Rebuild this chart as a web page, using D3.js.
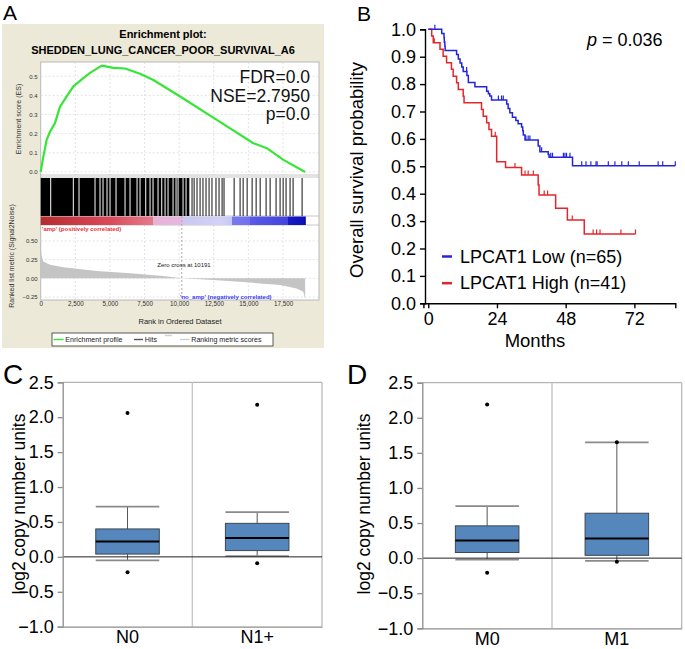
<!DOCTYPE html>
<html>
<head>
<meta charset="utf-8">
<script src="https://cdn.jsdelivr.net/npm/d3@7"></script>
<style>
  body { margin: 0; background: #fff; }
  svg { display: block; font-family: "Liberation Sans", Arial, sans-serif; }
</style>
</head>
<body>
<svg id="fig" width="685" height="649"></svg>
<script>
// ---------- Panel A: GSEA enrichment plot ----------
var esRank  = [0, 190, 430, 670, 1030, 1390, 1880, 2360, 3080, 3560, 4410, 5250, 6090, 7170, 8140, 10070, 12720, 15360, 16330, 17530, 19100];
var esScore = [0, 0.08, 0.167, 0.21, 0.255, 0.34, 0.394, 0.447, 0.49, 0.517, 0.555, 0.543, 0.54, 0.513, 0.48, 0.394, 0.272, 0.15, 0.124, 0.063, 0];

// runs of hits so dense they print solid, then single hits
var hitRuns = [[0, 686], [759, 2319], [2391, 2731], [2803, 3887], [3959, 4248], [4320, 4465], [4537, 4754],
  [4826, 4971], [5043, 5404], [5477, 6055], [6127, 6416], [6488, 6922], [6994, 7138], [7211, 7550],
  [7622, 7861], [7933, 8077], [8150, 8439], [8511, 8706], [8778, 8945], [9017, 9161], [9233, 9523],
  [9595, 9739], [9811, 9884], [9956, 10245], [10317, 10462], [10534, 10736]];
var hitRanks = [10930, 11080, 11290, 11510, 11720, 11940, 12160, 12370, 12660, 12880, 13100, 13240, 13970,
  14400, 14620, 14910, 15270, 15560, 15850, 16280, 16570, 17000, 17290, 17510, 17720, 18010, 18230, 18880];

var metricRank  = [0, 60, 190, 670, 1640, 4040, 6450, 8860, 10191, 12470, 14880, 17290, 18490, 18970, 19100];
var metricValue = [0.45, 0.3, 0.225, 0.18, 0.149, 0.099, 0.068, 0.031, 0, -0.023, -0.054, -0.09, -0.135, -0.18, -0.28];

var zeroCross = 10191;
var rankTicks = [0, 2500, 5000, 7500, 10000, 12500, 15000, 17500];
var esTicks = [0, 0.1, 0.2, 0.3, 0.4, 0.5];
var metricTicks = [-0.25, 0, 0.25, 0.5];
var gseaTitle = ['Enrichment plot:', 'SHEDDEN_LUNG_CANCER_POOR_SURVIVAL_A6'];
var gseaStats = ['FDR=0.0', 'NSE=2.7950', 'p=0.0'];
var gseaLegend = ['Enrichment profile', 'Hits', '', 'Ranking metric scores'];

// ---------- Panel B: Kaplan-Meier ----------
var kmLowEvents = [[4.7, 0.985], [5.5, 0.969], [5.6, 0.954], [5.8, 0.938], [5.9, 0.923], [9.9, 0.908], [10.5, 0.892],
  [11.1, 0.877], [11.7, 0.862], [12.2, 0.846], [13.5, 0.831], [14.0, 0.806], [16.3, 0.790], [20.4, 0.774],
  [21.0, 0.765], [21.5, 0.757], [22.1, 0.742], [27.4, 0.727], [27.9, 0.711], [28.5, 0.695], [29.4, 0.679],
  [30.6, 0.667], [31.4, 0.655], [32.6, 0.643], [33.0, 0.630], [33.2, 0.614], [33.8, 0.596], [38.4, 0.574],
  [39.0, 0.553], [41.9, 0.543], [42.2, 0.533], [50.4, 0.502]];
var kmLowCensor = [2.3, 13.4, 24.5, 25.6, 26.2, 34.1, 34.9, 35.5, 39.6, 42.8, 43.4, 47.2, 47.75, 48.3, 49.5,
  53.6, 55.1, 56.8, 58.6, 59.0, 62.9, 65.2, 67.6, 69.9, 73.7, 80.3, 81.9, 86.3];
var kmLowEnd = 86.3;

var kmHighEvents = [[1.2, 0.976], [1.75, 0.951], [4.1, 0.927], [5.2, 0.902], [6.4, 0.878], [8.1, 0.854], [8.7, 0.829],
  [9.9, 0.805], [10.5, 0.780], [12.2, 0.756], [12.5, 0.732], [18.6, 0.707], [19.2, 0.683], [20.4, 0.659],
  [21.2, 0.634], [22.1, 0.610], [23.9, 0.517], [27.0, 0.496], [32.6, 0.468], [38.4, 0.432], [38.7, 0.395],
  [44.5, 0.347], [48.6, 0.304], [54.5, 0.253]];
var kmHighCensor = [2.1, 23.4, 30.3, 33.8, 34.9, 36.7, 40.5, 41.7, 50.3, 57.6, 58.8, 60.0, 67.3, 72.4];
var kmHighEnd = 72.4;

var kmNames = ['LPCAT1 Low (n=65)', 'LPCAT1 High (n=41)'];
var monthTicks = [0, 24, 48, 72];
var survTicks = [0, 0.1, 0.2, 0.3, 0.4, 0.5, 0.6, 0.7, 0.8, 0.9, 1.0];
var pValue = '0.036';

// ---------- Panels C, D: box plots ----------
var copyTicks = [-1, -0.5, 0, 0.5, 1, 1.5, 2, 2.5];

var nodeCats = ['N0', 'N1+'];
var nodeLow = [-0.05, 0.01];
var nodeQ1 = [0.04, 0.09];
var nodeMedian = [0.22, 0.27];
var nodeQ3 = [0.40, 0.48];
var nodeHigh = [0.72, 0.64];
var nodeOutliers = [[2.06, -0.22], [2.18, -0.09]];

var metaCats = ['M0', 'M1'];
var metaLow = [-0.02, -0.04];
var metaQ1 = [0.08, 0.04];
var metaMedian = [0.25, 0.28];
var metaQ3 = [0.46, 0.64];
var metaHigh = [0.74, 1.65];
var metaOutliers = [[2.19, -0.21], [1.65, -0.05]];

var fig = d3.select('#fig');

function styleAxis(g, size, color) {
  g.attr('font-size', size)
    .attr('font-family', '"Liberation Sans", Arial, sans-serif')
    .style('color', color);
}

// ================= A =================
var pa = fig.append('g');

pa.append('text').attr('x', 3).attr('y', 20).attr('font-size', 21).text('A');

pa.append('rect')
  .attr('x', 2).attr('y', 24).attr('width', 322).attr('height', 324)
  .attr('fill', '#ece9d8');

pa.selectAll('.title')
  .data(gseaTitle)
  .enter().append('text')
  .attr('x', 163)
  .attr('y', function(d, i) { return 37.5 + i * 16; })
  .attr('text-anchor', 'middle')
  .attr('font-size', 11)
  .attr('font-weight', 'bold')
  .text(function(d) { return d; });

var xRank = d3.scaleLinear().domain([0, 20100]).range([40.7, 319]);
var yES = d3.scaleLinear().domain([-0.016, 0.574]).range([175, 62]);
var yMetric = d3.scaleLinear().domain([-0.29, 0.713]).range([300, 225]);

pa.append('rect')
  .attr('x', 40.7).attr('y', 62).attr('width', 278.3).attr('height', 238)
  .attr('fill', '#fff').attr('stroke', '#b8b8b8');

// grid
var grid = pa.append('g').attr('stroke', '#dcdcdc').attr('stroke-dasharray', '2,2').attr('stroke-width', 0.8);
rankTicks.forEach(function(r) {
  if (r === 0) return;
  grid.append('line').attr('x1', xRank(r)).attr('x2', xRank(r)).attr('y1', 62).attr('y2', 175);
  grid.append('line').attr('x1', xRank(r)).attr('x2', xRank(r)).attr('y1', 225).attr('y2', 300);
});
esTicks.forEach(function(t) {
  grid.append('line').attr('x1', 40.7).attr('x2', 319).attr('y1', yES(t)).attr('y2', yES(t));
});
metricTicks.forEach(function(t) {
  grid.append('line').attr('x1', 40.7).attr('x2', 319).attr('y1', yMetric(t)).attr('y2', yMetric(t));
});

// separators between the three strips
[175, 177, 216, 225].forEach(function(yy) {
  pa.append('line').attr('x1', 40.7).attr('x2', 319).attr('y1', yy).attr('y2', yy)
    .attr('stroke', '#b8b8b8').attr('stroke-width', 0.8);
});

// hits
pa.selectAll('.run')
  .data(hitRuns)
  .enter().append('rect')
  .attr('x', function(d) { return xRank(d[0]); })
  .attr('width', function(d) { return xRank(d[1]) - xRank(d[0]); })
  .attr('y', 178).attr('height', 38)
  .attr('fill', '#000');

pa.selectAll('.hit')
  .data(hitRanks)
  .enter().append('line')
  .attr('x1', function(d) { return xRank(d); })
  .attr('x2', function(d) { return xRank(d); })
  .attr('y1', 178).attr('y2', 216)
  .attr('stroke', '#111').attr('stroke-width', 1);

// ranked list colour bar
var barStops = [[0, '#b32c2e'], [2500, '#c83a46'], [5000, '#d84a5a'], [7000, '#e06a7a'], [8135, '#e27a8a'],
  [8136, '#e8b2d6'], [10280, '#e6b8e0'], [10281, '#c9c9f0'], [13000, '#d2d2f8'], [13800, '#c8c8f4'],
  [13801, '#7a7aee'], [15122, '#7070ec'], [15123, '#5a5ae6'], [17866, '#4444de'], [17867, '#1a1ac6'],
  [19000, '#1010b8'], [19146, '#000090']];
var lastRank = 19146;
var grad = fig.append('defs').append('linearGradient')
  .attr('id', 'rankGrad')
  .attr('gradientUnits', 'userSpaceOnUse')
  .attr('x1', xRank(0)).attr('x2', xRank(lastRank)).attr('y1', 0).attr('y2', 0);
grad.selectAll('stop')
  .data(barStops)
  .enter().append('stop')
  .attr('offset', function(d) { return d[0] / lastRank; })
  .attr('stop-color', function(d) { return d[1]; });
pa.append('rect')
  .attr('x', xRank(0)).attr('y', 216.5)
  .attr('width', xRank(lastRank) - xRank(0)).attr('height', 8.5)
  .attr('fill', 'url(#rankGrad)');

// ranked metric area
var metricPts = metricRank.map(function(r, i) { return [r, metricValue[i]]; });
pa.append('path')
  .datum(metricPts)
  .attr('d', d3.area()
    .x(function(d) { return xRank(d[0]); })
    .y0(yMetric(0))
    .y1(function(d) { return yMetric(d[1]); }))
  .attr('fill', '#c4c4c4');

pa.append('line')
  .attr('x1', xRank(zeroCross)).attr('x2', xRank(zeroCross))
  .attr('y1', 216).attr('y2', 300)
  .attr('stroke', '#a8a8a8').attr('stroke-dasharray', '2,2');

// enrichment profile
var esPts = esRank.map(function(r, i) { return [r, esScore[i]]; });
pa.append('path')
  .datum(esPts)
  .attr('d', d3.line()
    .x(function(d) { return xRank(d[0]); })
    .y(function(d) { return yES(d[1]); }))
  .attr('fill', 'none')
  .attr('stroke', '#36e636')
  .attr('stroke-width', 2.2)
  .attr('stroke-linejoin', 'round');

pa.selectAll('.stat')
  .data(gseaStats)
  .enter().append('text')
  .attr('x', 310)
  .attr('y', function(d, i) { return 83 + i * 18.7; })
  .attr('text-anchor', 'end')
  .attr('font-size', 17.5)
  .attr('fill', '#111')
  .text(function(d) { return d; });

pa.append('text').attr('x', 42).attr('y', 231).attr('font-size', 6).attr('font-weight', 'bold')
  .attr('fill', '#e8303a').text("'amp' (positively correlated)");
pa.append('text').attr('x', 184).attr('y', 267).attr('font-size', 6).attr('text-anchor', 'middle')
  .attr('fill', '#222').text('Zero cross at ' + zeroCross);
pa.append('text').attr('x', 180).attr('y', 299).attr('font-size', 6).attr('font-weight', 'bold')
  .attr('fill', '#3c3cee').text("'no_amp' (negatively correlated)");

// axes
pa.append('g')
  .attr('transform', 'translate(40.7,0)')
  .call(d3.axisLeft(yES).tickValues(esTicks).tickSize(0).tickPadding(3).tickFormat(d3.format('.1f')))
  .call(function(g) { g.select('.domain').remove(); styleAxis(g, 6, '#333'); });

pa.append('g')
  .attr('transform', 'translate(40.7,0)')
  .call(d3.axisLeft(yMetric).tickValues(metricTicks).tickSize(0).tickPadding(3).tickFormat(d3.format('.2f')))
  .call(function(g) { g.select('.domain').remove(); styleAxis(g, 6, '#333'); });

pa.append('g')
  .attr('transform', 'translate(0,300)')
  .call(d3.axisBottom(xRank).tickValues(rankTicks).tickSize(0).tickPadding(2).tickFormat(d3.format(',')))
  .call(function(g) { g.select('.domain').remove(); styleAxis(g, 6.3, '#333'); });

pa.append('text').attr('x', 180).attr('y', 324).attr('text-anchor', 'middle')
  .attr('font-size', 7.5).attr('fill', '#222').text('Rank in Ordered Dataset');
pa.append('text').attr('transform', 'translate(21,119) rotate(-90)').attr('text-anchor', 'middle')
  .attr('font-size', 7).attr('fill', '#333').text('Enrichment score (ES)');
pa.append('text').attr('transform', 'translate(14,256) rotate(-90)').attr('text-anchor', 'middle')
  .attr('font-size', 7).attr('fill', '#333').text('Ranked list metric (Signal2Noise)');

// legend
var lg = pa.append('g');
lg.append('rect').attr('x', 52).attr('y', 333).attr('width', 221).attr('height', 13)
  .attr('fill', '#fff').attr('stroke', '#333').attr('stroke-width', 0.8);
var lgItems = [
  { x: 53.5, w: 10, y: 339.5, c: '#36e636' },
  { x: 134, w: 9, y: 339.5, c: '#555' },
  { x: 165, w: 7, y: 335.5, c: '#d0d0d0' },
  { x: 180, w: 9.5, y: 339.5, c: '#cfcfcf' }
];
lg.selectAll('.ll')
  .data(gseaLegend)
  .enter().append('line')
  .attr('x1', function(d, i) { return lgItems[i].x; })
  .attr('x2', function(d, i) { return lgItems[i].x + lgItems[i].w; })
  .attr('y1', function(d, i) { return lgItems[i].y; })
  .attr('y2', function(d, i) { return lgItems[i].y; })
  .attr('stroke', function(d, i) { return lgItems[i].c; })
  .attr('stroke-width', 1.4);
lg.selectAll('.lt')
  .data(gseaLegend)
  .enter().append('text')
  .attr('x', function(d, i) { return lgItems[i].x + lgItems[i].w + 1.8; })
  .attr('y', 342.3)
  .attr('font-size', 7.1)
  .attr('fill', '#222')
  .text(function(d) { return d; });

// ================= B =================
var pb = fig.append('g');
pb.append('text').attr('x', 357).attr('y', 21).attr('font-size', 21).text('B');

var xM = d3.scaleLinear().domain([-1.7, 86.3]).range([423.4, 675.3]);
var yS = d3.scaleLinear().domain([0, 1]).range([303.3, 29.3]);

function survAt(events, t) {
  var s = 1;
  events.forEach(function(e) { if (e[0] <= t) s = e[1]; });
  return s;
}

function drawKM(events, censor, end, color) {
  var pts = [[0, 1]].concat(events).concat([[end, events[events.length - 1][1]]]);
  pb.append('path')
    .datum(pts)
    .attr('d', d3.line()
      .x(function(d) { return xM(d[0]); })
      .y(function(d) { return yS(d[1]); })
      .curve(d3.curveStepAfter))
    .attr('fill', 'none')
    .attr('stroke', color)
    .attr('stroke-width', 1.5);

  pb.selectAll(null)
    .data(censor)
    .enter().append('line')
    .attr('x1', function(d) { return xM(d); })
    .attr('x2', function(d) { return xM(d); })
    .attr('y1', function(d) { return yS(survAt(events, d)); })
    .attr('y2', function(d) { return yS(survAt(events, d)) - 4.5; })
    .attr('stroke', color)
    .attr('stroke-width', 1.2);
}

drawKM(kmHighEvents, kmHighCensor, kmHighEnd, '#e3262b');
drawKM(kmLowEvents, kmLowCensor, kmLowEnd, '#2424dc');

pb.append('g')
  .attr('transform', 'translate(425,0)')
  .call(d3.axisLeft(yS).tickValues(survTicks).tickSize(5).tickPadding(4).tickFormat(d3.format('.1f')))
  .call(function(g) {
    styleAxis(g, 18, '#000');
    g.selectAll('path, line').attr('stroke-width', 1.4);
  });

pb.append('g')
  .attr('transform', 'translate(0,303.3)')
  .call(d3.axisBottom(xM).tickValues(monthTicks).tickSize(5).tickPadding(4))
  .call(function(g) {
    styleAxis(g, 18, '#000');
    g.selectAll('path, line').attr('stroke-width', 1.4);
  });

pb.append('text').attr('x', 535).attr('y', 347).attr('text-anchor', 'middle')
  .attr('font-size', 18.5).text('Months');
pb.append('text').attr('transform', 'translate(363,170) rotate(-90)').attr('text-anchor', 'middle')
  .attr('font-size', 18.5).text('Overall survival probability');

var pText = pb.append('text').attr('x', 587).attr('y', 46).attr('font-size', 18);
pText.append('tspan').attr('font-style', 'italic').text('p');
pText.append('tspan').text(' = ' + pValue);

var kmColors = ['#2424dc', '#e3262b'];
pb.selectAll('.kl')
  .data(kmNames)
  .enter().append('line')
  .attr('x1', 442).attr('x2', 452)
  .attr('y1', function(d, i) { return 256.5 + i * 26.7; })
  .attr('y2', function(d, i) { return 256.5 + i * 26.7; })
  .attr('stroke', function(d, i) { return kmColors[i]; })
  .attr('stroke-width', 2.5);
pb.selectAll('.kt')
  .data(kmNames)
  .enter().append('text')
  .attr('x', 460)
  .attr('y', function(d, i) { return 262.5 + i * 26.5; })
  .attr('font-size', 18)
  .text(function(d) { return d; });

// ================= C, D =================
function drawBoxPanel(cfg) {
  var g = fig.append('g');
  g.append('text').attr('x', cfg.letterX).attr('y', 384).attr('font-size', 28).text(cfg.letter);

  var y = d3.scaleLinear().domain([-1, 2.5]).range([cfg.bottom, cfg.top]);
  var x = d3.scaleBand().domain(cfg.cats).range([cfg.left, cfg.right]);
  var bw = x.bandwidth() * 0.49;

  g.append('line').attr('x1', cfg.left).attr('x2', cfg.right).attr('y1', cfg.top).attr('y2', cfg.top)
    .attr('stroke', '#b4b4b4').attr('stroke-width', 1.2);
  g.append('line').attr('x1', cfg.right).attr('x2', cfg.right).attr('y1', cfg.top).attr('y2', cfg.bottom)
    .attr('stroke', '#b4b4b4').attr('stroke-width', 1.2);
  g.append('line').attr('x1', x(cfg.cats[1])).attr('x2', x(cfg.cats[1])).attr('y1', cfg.top).attr('y2', cfg.bottom)
    .attr('stroke', '#c8c8c8').attr('stroke-width', 1.5);

  var boxes = g.selectAll('.box')
    .data(cfg.cats)
    .enter().append('g')
    .attr('transform', function(d) { return 'translate(' + (x(d) + x.bandwidth() / 2) + ',0)'; });

  boxes.append('line')
    .attr('x1', 0).attr('x2', 0)
    .attr('y1', function(d, i) { return y(cfg.q3[i]); })
    .attr('y2', function(d, i) { return y(cfg.high[i]); })
    .attr('stroke', '#555').attr('stroke-width', 1);
  boxes.append('line')
    .attr('x1', 0).attr('x2', 0)
    .attr('y1', function(d, i) { return y(cfg.q1[i]); })
    .attr('y2', function(d, i) { return y(cfg.low[i]); })
    .attr('stroke', '#555').attr('stroke-width', 1);
  ['high', 'low'].forEach(function(k) {
    boxes.append('line')
      .attr('x1', -bw / 2).attr('x2', bw / 2)
      .attr('y1', function(d, i) { return y(cfg[k][i]); })
      .attr('y2', function(d, i) { return y(cfg[k][i]); })
      .attr('stroke', '#8a8a8a').attr('stroke-width', 1.8);
  });

  boxes.append('rect')
    .attr('x', -bw / 2).attr('width', bw)
    .attr('y', function(d, i) { return y(cfg.q3[i]); })
    .attr('height', function(d, i) { return y(cfg.q1[i]) - y(cfg.q3[i]); })
    .attr('fill', '#5587bd')
    .attr('stroke', '#3d4650').attr('stroke-width', 1);
  boxes.append('line')
    .attr('x1', -bw / 2).attr('x2', bw / 2)
    .attr('y1', function(d, i) { return y(cfg.median[i]); })
    .attr('y2', function(d, i) { return y(cfg.median[i]); })
    .attr('stroke', '#000').attr('stroke-width', 2);

  g.append('line').attr('x1', cfg.left).attr('x2', cfg.right).attr('y1', y(0)).attr('y2', y(0))
    .attr('stroke', '#222').attr('stroke-width', 1);

  boxes.selectAll('circle')
    .data(function(d, i) { return cfg.outliers[i]; })
    .enter().append('circle')
    .attr('cx', 0)
    .attr('cy', function(v) { return y(v); })
    .attr('r', 2)
    .attr('fill', '#000');

  g.append('g')
    .attr('transform', 'translate(' + cfg.left + ',0)')
    .call(d3.axisLeft(y).tickValues(copyTicks).tickSize(5).tickPadding(4).tickFormat(d3.format('.1f')))
    .call(function(a) {
      styleAxis(a, 18, '#000');
      a.selectAll('path, line').attr('stroke', '#8c8c8c').attr('stroke-width', 1.3);
    });
  g.append('g')
    .attr('transform', 'translate(0,' + cfg.bottom + ')')
    .call(d3.axisBottom(x).tickSize(0).tickPadding(4))
    .call(function(a) {
      styleAxis(a, 18, '#000');
      a.selectAll('path').attr('stroke', '#8c8c8c').attr('stroke-width', 1.3);
    });

  g.append('text')
    .attr('transform', 'translate(' + cfg.labelX + ',504) rotate(-90)')
    .attr('text-anchor', 'middle')
    .attr('dy', '0.35em')
    .attr('font-size', 17.5)
    .text('log2 copy number units');
}

drawBoxPanel({
  letter: 'C', letterX: 3, labelX: 19,
  left: 62.7, right: 322, top: 382.3, bottom: 626.7,
  cats: nodeCats, low: nodeLow, q1: nodeQ1, median: nodeMedian, q3: nodeQ3, high: nodeHigh, outliers: nodeOutliers
});
drawBoxPanel({
  letter: 'D', letterX: 347, labelX: 364,
  left: 422.3, right: 681.7, top: 382.7, bottom: 628.3,
  cats: metaCats, low: metaLow, q1: metaQ1, median: metaMedian, q3: metaQ3, high: metaHigh, outliers: metaOutliers
});
</script>
</body>
</html>
